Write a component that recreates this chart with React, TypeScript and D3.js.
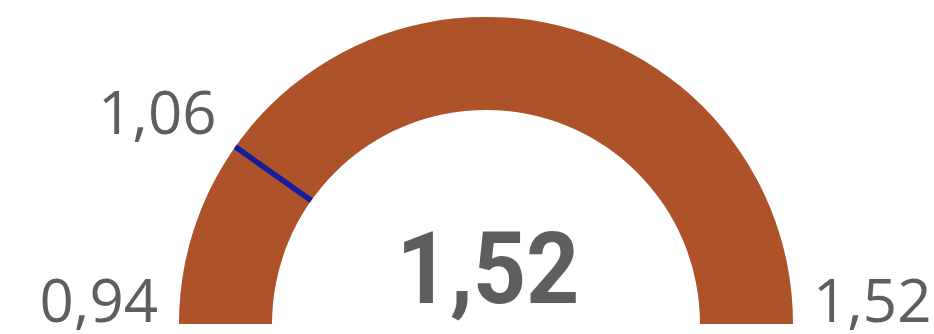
import React from "react";
import * as d3 from "d3";

const gaugeMin = [0.943];
const gaugeMax = [1.52];
const gaugeValue = [1.52];
const gaugeTarget = [1.056];

const W = 934;
const H = 334;

const fmt = (v: number) => d3.format(".2f")(v).replace(".", ",");

export default function App() {
  const cx = 486;
  const cy = 324;
  const R = 307;
  const r = 214;
  const angle = d3
    .scaleLinear()
    .domain([gaugeMin[0], gaugeMax[0]])
    .range([-Math.PI / 2, Math.PI / 2]);

  const arcGen = d3.arc<any>().innerRadius(r).outerRadius(R);
  const bg = arcGen({ startAngle: -Math.PI / 2, endAngle: Math.PI / 2 } as any) as string;
  const fg = arcGen({ startAngle: -Math.PI / 2, endAngle: angle(gaugeValue[0]) } as any) as string;

  const ta = angle(gaugeTarget[0]);
  const pt = (rad: number, a: number) => [Math.sin(a) * rad, -Math.cos(a) * rad];
  const [x1, y1] = pt(r, ta);
  const [x2, y2] = pt(R, ta);
  const [lx, ly] = pt(R + 23, ta);

  const labelStyle: React.CSSProperties = {
    fontFamily: "'Open Sans', 'Noto Sans', sans-serif",
    fontSize: 60,
    fill: "#605E5C",
  };

  return (
    <svg
      width={W}
      height={H}
      style={{ position: "absolute", left: 0, top: 0, background: "#fff" }}
    >
      <g transform={`translate(${cx},${cy})`}>
        <path d={bg} fill="#E6E6E6" />
        <path d={fg} fill="#AD5229" />
        <line x1={x1} y1={y1} x2={x2} y2={y2} stroke="#121E9C" strokeWidth={5.5} />
        <text x={lx} y={ly} textAnchor="end" style={labelStyle}>
          {fmt(gaugeTarget[0])}
        </text>
        <text x={-R - 21} y={-2} textAnchor="end" style={labelStyle}>
          {fmt(gaugeMin[0])}
        </text>
        <text x={R + 20} y={-2} textAnchor="start" style={labelStyle}>
          {fmt(gaugeMax[0])}
        </text>
        <g transform="translate(2,-21) scale(0.93,1)">
          <text
            x={0}
            y={0}
            textAnchor="middle"
            style={{
              fontFamily: "Roboto, 'DejaVu Sans', sans-serif",
              fontWeight: 700,
              fontSize: 100,
              fill: "#605E5C",
            }}
          >
            {fmt(gaugeValue[0])}
          </text>
        </g>
      </g>
    </svg>
  );
}
